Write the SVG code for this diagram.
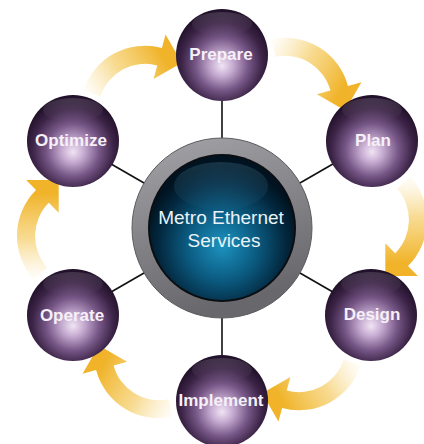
<svg xmlns="http://www.w3.org/2000/svg" xmlns:xlink="http://www.w3.org/1999/xlink" width="424" height="444" viewBox="0 0 424 444">
<style>
.lbl{font-family:"Liberation Sans",Arial,sans-serif;font-weight:bold;font-size:17px;fill:#F6F0F8;text-anchor:middle}
.ctr{font-family:"Liberation Sans",Arial,sans-serif;font-size:19px;fill:#EAF3F8;text-anchor:middle}
.ball{fill:url(#sphere)}
.shine{fill:url(#shine)}
.link{stroke:#111;stroke-width:1.6;fill:none}
.arrow{fill:url(#ag)}
</style>
<defs>
<radialGradient id="sphere" cx="50%" cy="58%" r="55%" fx="50%" fy="62%">
<stop offset="0" stop-color="#F0E4F4"/>
<stop offset="0.22" stop-color="#C6ABD1"/>
<stop offset="0.52" stop-color="#775787"/>
<stop offset="0.8" stop-color="#3C2447"/>
<stop offset="1" stop-color="#22112A"/>
</radialGradient>
<linearGradient id="shine" x1="0" y1="0" x2="0" y2="1">
<stop offset="0" stop-color="#fff" stop-opacity="0.14"/>
<stop offset="1" stop-color="#fff" stop-opacity="0"/>
</linearGradient>
<linearGradient id="ag" gradientUnits="userSpaceOnUse" x1="-48" y1="-178" x2="35" y2="-180">
<stop offset="0" stop-color="#F7D98A" stop-opacity="0.08"/>
<stop offset="0.45" stop-color="#F4C857" stop-opacity="0.65"/>
<stop offset="1" stop-color="#F0B329"/>
</linearGradient>
<linearGradient id="ring" x1="0" y1="0" x2="0.3" y2="1">
<stop offset="0" stop-color="#A5A5A9"/>
<stop offset="0.5" stop-color="#85858A"/>
<stop offset="1" stop-color="#67676C"/>
</linearGradient>
<radialGradient id="blue" cx="50%" cy="62%" r="55%">
<stop offset="0" stop-color="#1C93C0"/>
<stop offset="0.45" stop-color="#0B5A80"/>
<stop offset="0.8" stop-color="#03283F"/>
<stop offset="1" stop-color="#011320"/>
</radialGradient>
<linearGradient id="gloss" x1="0" y1="0" x2="0" y2="1">
<stop offset="0" stop-color="#5FA9CC" stop-opacity="0.22"/>
<stop offset="1" stop-color="#5FA9CC" stop-opacity="0.03"/>
</linearGradient>
<path id="arr" class="arrow" d="M -51.5,-188.3 A 65 65 0 0 1 38.0,-186.0 L 47.9,-195.9 L 47.9,-163.3 L 15.3,-163.3 L 25.2,-173.2 A 47 47 0 0 0 -39.4,-174.9 Z"/>
</defs>
<rect width="424" height="444" fill="#fff"/>
<g id="connectors">
<use id="a-optimize-prepare" xlink:href="#arr" href="#arr" transform="translate(222 228) rotate(-30)"/>
<use id="a-prepare-plan" xlink:href="#arr" href="#arr" transform="translate(222 228) rotate(30)"/>
<use id="a-plan-design" xlink:href="#arr" href="#arr" transform="translate(222 228) rotate(90)"/>
<use id="a-design-implement" xlink:href="#arr" href="#arr" transform="translate(222 228) rotate(150)"/>
<use id="a-implement-operate" xlink:href="#arr" href="#arr" transform="translate(222 228) rotate(210)"/>
<use id="a-operate-optimize" xlink:href="#arr" href="#arr" transform="translate(222 228) rotate(270)"/>
<line class="link" x1="222" y1="139" x2="222" y2="100"/>
<line class="link" x1="299.1" y1="183.5" x2="332.9" y2="164"/>
<line class="link" x1="299.1" y1="272.5" x2="332.9" y2="292"/>
<line class="link" x1="222" y1="317" x2="222" y2="356"/>
<line class="link" x1="144.9" y1="272.5" x2="111.1" y2="292"/>
<line class="link" x1="144.9" y1="183.5" x2="111.1" y2="164"/>
</g>
<g id="center">
<circle cx="222" cy="228" r="90" fill="url(#ring)" stroke="#5C5C60" stroke-width="1"/>
<circle cx="222" cy="228" r="74" fill="#0A0E12"/>
<circle cx="222" cy="228" r="72" fill="url(#blue)"/>
<ellipse cx="221" cy="186" rx="47" ry="24" fill="url(#gloss)"/>
<text class="ctr" x="221" y="224">Metro Ethernet</text>
<text class="ctr" x="224" y="247">Services</text>
</g>
<g id="prepare">
<circle class="ball" cx="222" cy="55" r="46"/>
<ellipse class="shine" cx="222" cy="24" rx="30" ry="12"/>
<text class="lbl" x="221" y="60">Prepare</text>
</g>
<g id="plan">
<circle class="ball" cx="372" cy="141" r="46"/>
<ellipse class="shine" cx="372" cy="110" rx="30" ry="12"/>
<text class="lbl" x="373" y="146">Plan</text>
</g>
<g id="design">
<circle class="ball" cx="371" cy="315" r="46"/>
<ellipse class="shine" cx="371" cy="284" rx="30" ry="12"/>
<text class="lbl" x="372" y="320">Design</text>
</g>
<g id="implement">
<circle class="ball" cx="222" cy="401" r="46"/>
<ellipse class="shine" cx="222" cy="370" rx="30" ry="12"/>
<text class="lbl" x="221" y="406">Implement</text>
</g>
<g id="operate">
<circle class="ball" cx="73" cy="315" r="46"/>
<ellipse class="shine" cx="73" cy="284" rx="30" ry="12"/>
<text class="lbl" x="72" y="321">Operate</text>
</g>
<g id="optimize">
<circle class="ball" cx="73" cy="141" r="46"/>
<ellipse class="shine" cx="73" cy="110" rx="30" ry="12"/>
<text class="lbl" x="71" y="146">Optimize</text>
</g>
</svg>
